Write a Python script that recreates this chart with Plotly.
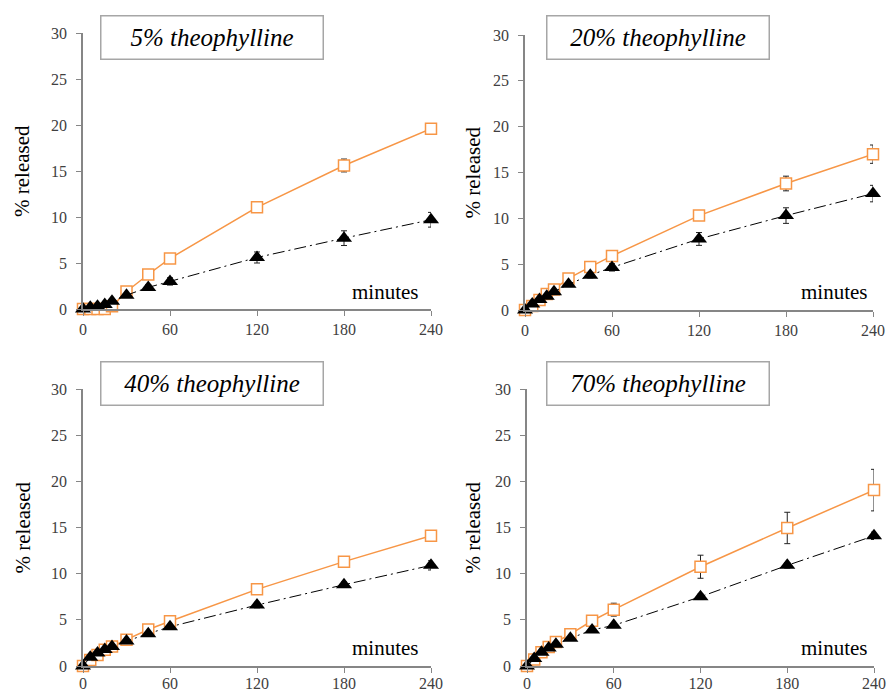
import plotly.graph_objects as go

# Sampling times (minutes)
minutes = [0, 5, 10, 15, 20, 30, 45, 60, 120, 180, 240]

# Panel labels
panel_titles = ["5% theophylline", "20% theophylline", "40% theophylline", "70% theophylline"]

# Cumulative release (%) – open orange squares series
orange_5 = [0, 0, 0, 0, 0.3, 1.9, 3.75, 5.5, 11.05, 15.6, 19.6]
orange_20 = [0, 0.45, 1.1, 1.75, 2.25, 3.45, 4.7, 5.9, 10.3, 13.8, 17.0]
orange_40 = [0, 0.65, 1.2, 1.75, 2.1, 2.85, 3.95, 4.85, 8.3, 11.3, 14.1]
orange_70 = [0, 0.7, 1.5, 2.05, 2.6, 3.45, 4.9, 6.1, 10.75, 14.95, 19.05]

orange_err_5 = [0, 0, 0, 0, 0, 0, 0, 0, 0.5, 0.7, 0.5]
orange_err_20 = [0, 0, 0, 0, 0, 0, 0, 0.3, 0.4, 0.8, 1.0]
orange_err_40 = [0, 0, 0, 0, 0, 0, 0, 0, 0.3, 0.3, 0.5]
orange_err_70 = [0, 0, 0, 0, 0, 0, 0.3, 0.7, 1.25, 1.7, 2.25]

# Cumulative release (%) – filled black triangles series
black_5 = [0, 0.2, 0.3, 0.5, 0.85, 1.5, 2.35, 3.0, 5.6, 7.7, 9.7]
black_20 = [0, 0.65, 1.15, 1.5, 2.0, 2.8, 3.8, 4.65, 7.75, 10.3, 12.7]
black_40 = [0, 0.95, 1.4, 1.8, 2.1, 2.7, 3.5, 4.25, 6.6, 8.8, 10.9]
black_70 = [0, 0.8, 1.5, 1.95, 2.35, 3.0, 3.9, 4.4, 7.5, 10.9, 14.1]

black_err_5 = [0, 0, 0, 0, 0, 0, 0.3, 0.4, 0.6, 0.8, 0.8]
black_err_20 = [0, 0, 0, 0, 0, 0, 0.3, 0.4, 0.7, 0.85, 0.9]
black_err_40 = [0, 0, 0, 0, 0, 0, 0, 0, 0.3, 0.3, 0.5]
black_err_70 = [0, 0, 0, 0, 0, 0, 0, 0, 0.3, 0.3, 0.4]

orange_sets = [orange_5, orange_20, orange_40, orange_70]
orange_errs = [orange_err_5, orange_err_20, orange_err_40, orange_err_70]
black_sets = [black_5, black_20, black_40, black_70]
black_errs = [black_err_5, black_err_20, black_err_40, black_err_70]

W, H = 887, 693
SERIF = "Liberation Serif, Times New Roman, serif"
ORANGE = "#F79646"
AXIS_GRAY = "#868686"

# plot-area rectangles in pixels: (left, right, top, bottom)
boxes = [(83, 431, 33, 309), (525, 873, 35, 310), (83, 431, 389, 666), (527, 874, 389, 666)]
title_boxes = [(100, 323, 16, 60), (546, 769, 16, 60), (100, 323, 361, 405), (546, 769, 361, 405)]
ytitle_x = [22, 472, 22, 472]
minutes_pos = [(233, 1.9), (238, 1.95), (233, 1.9), (237, 1.9)]
# bottom-row tick labels pulled up a little so they stay inside the page
xlabel_standoff = [0, 0, -3, -3]

fig = go.Figure()
layout = dict(
    width=W, height=H,
    margin=dict(l=0, r=0, t=0, b=0, pad=0),
    paper_bgcolor="white", plot_bgcolor="white",
    showlegend=False,
    font=dict(family=SERIF, color="#404040", size=16),
    annotations=[],
)

for i in range(4):
    l, r, t, b = boxes[i]
    xa = "xaxis" if i == 0 else f"xaxis{i + 1}"
    ya = "yaxis" if i == 0 else f"yaxis{i + 1}"
    xr = "x" if i == 0 else f"x{i + 1}"
    yr = "y" if i == 0 else f"y{i + 1}"

    fig.add_trace(go.Scatter(
        x=minutes, y=orange_sets[i], xaxis=xr, yaxis=yr,
        mode="lines+markers", cliponaxis=False,
        line=dict(color=ORANGE, width=1.5),
        marker=dict(symbol="square", size=11, color="white",
                    line=dict(color=ORANGE, width=1.5)),
        error_y=dict(type="data", array=orange_errs[i], color="#222222",
                     thickness=1, width=3),
    ))
    fig.add_trace(go.Scatter(
        x=minutes, y=black_sets[i], xaxis=xr, yaxis=yr,
        mode="lines+markers", cliponaxis=False,
        line=dict(color="black", width=1, dash="12px,4px,2px,4px"),
        marker=dict(symbol="triangle-up", size=14, color="black"),
        error_y=dict(type="data", array=black_errs[i], color="#222222",
                     thickness=1, width=3),
    ))

    layout[xa] = dict(
        domain=[l / W, r / W], anchor=yr, range=[0, 240], automargin=False,
        tickvals=[0, 60, 120, 180, 240], showgrid=False, zeroline=False,
        showline=True, linecolor=AXIS_GRAY, linewidth=1.5,
        ticks="outside", ticklen=5, tickcolor=AXIS_GRAY,
        ticklabelstandoff=xlabel_standoff[i],
        tickfont=dict(family=SERIF, size=16, color="#404040"),
    )
    layout[ya] = dict(
        domain=[1 - b / H, 1 - t / H], anchor=xr, range=[0, 30], automargin=False,
        tickvals=[0, 5, 10, 15, 20, 25, 30], showgrid=False, zeroline=False,
        showline=True, linecolor=AXIS_GRAY, linewidth=1.5,
        ticks="outside", ticklen=5, tickcolor=AXIS_GRAY,
        ticklabelstandoff=6,
        tickfont=dict(family=SERIF, size=16, color="#404040"),
    )

    # panel heading in a framed box
    tl, tr, tt, tb = title_boxes[i]
    layout["annotations"].append(dict(
        xref="paper", yref="paper",
        x=(tl + tr) / 2 / W, y=1 - (tt + tb) / 2 / H,
        xanchor="center", yanchor="middle",
        text=f"<i>{panel_titles[i]}</i>", showarrow=False,
        width=tr - tl - 2, height=tb - tt - 2, borderpad=0,
        bordercolor="#A6A6A6", borderwidth=1.5, bgcolor="white",
        font=dict(family=SERIF, size=25, color="black"),
    ))
    # y axis label
    layout["annotations"].append(dict(
        xref="paper", yref="paper",
        x=ytitle_x[i] / W, y=1 - (t + b) / 2 / H,
        xanchor="center", yanchor="middle", textangle=-90,
        text="% released", showarrow=False,
        font=dict(family=SERIF, size=21, color="black"),
    ))
    # x axis label inside the plot area
    mx, my = minutes_pos[i]
    layout["annotations"].append(dict(
        xref=xr, yref=yr, x=mx, y=my,
        xanchor="right", yanchor="middle",
        text="minutes", showarrow=False,
        font=dict(family=SERIF, size=21, color="black"),
    ))

fig.update_layout(**layout)
fig.write_html("out.html")
